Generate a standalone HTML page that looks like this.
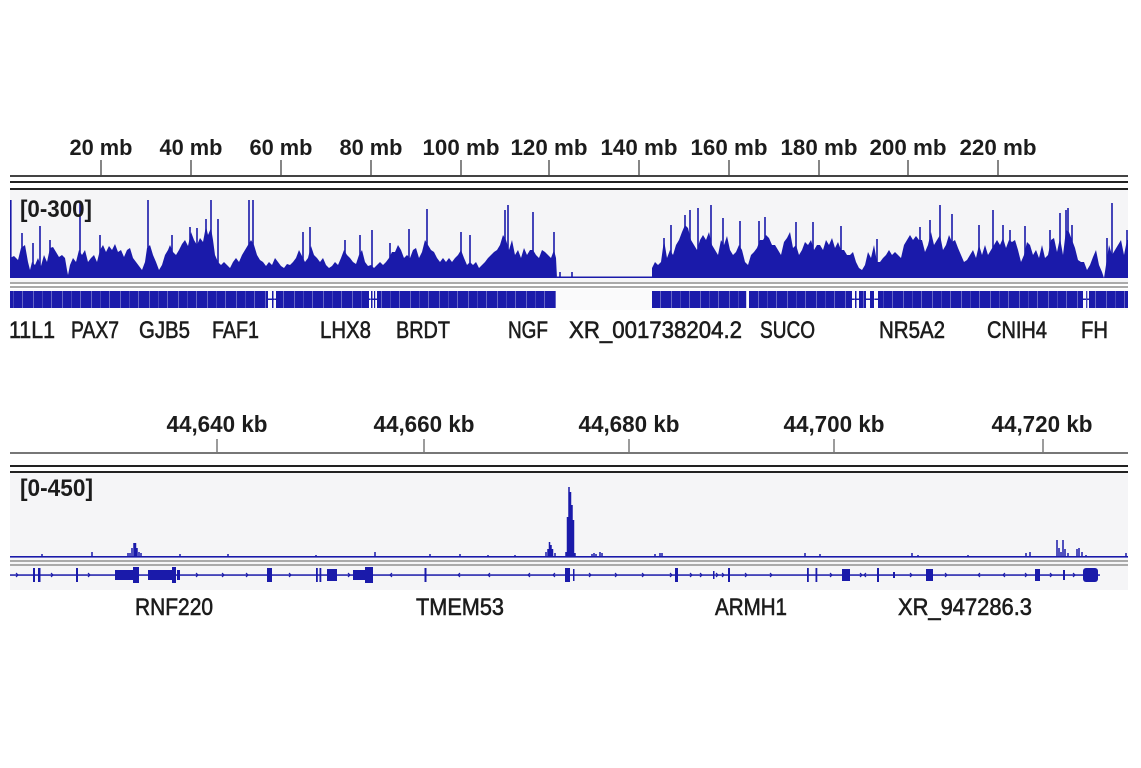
<!DOCTYPE html>
<html><head><meta charset="utf-8"><style>
html,body{margin:0;padding:0;background:#fff;}
svg{display:block;}
text{font-family:"Liberation Sans",Arial,sans-serif;fill:#1c1c1c;}
.t{font-weight:bold;font-size:22px;}
.r{font-weight:bold;font-size:24px;}
.g{font-size:24px;stroke:#1c1c1c;stroke-width:0.6px;}
</style></head><body>
<svg width="1141" height="768" viewBox="0 0 1141 768" xmlns="http://www.w3.org/2000/svg">
<defs>
<pattern id="tex" width="29" height="20" patternUnits="userSpaceOnUse">
<rect x="4" y="0" width="0.8" height="20" fill="#fff" opacity="0.4"/>
<rect x="13" y="0" width="0.6" height="20" fill="#fff" opacity="0.3"/>
<rect x="22" y="0" width="0.8" height="20" fill="#fff" opacity="0.4"/>
</pattern>
</defs>
<rect width="1141" height="768" fill="#fff"/>

<!-- ===== TOP PANEL ===== -->
<g text-anchor="middle" class="t">
<text x="101" y="155" textLength="63" lengthAdjust="spacingAndGlyphs">20 mb</text>
<text x="191" y="155" textLength="63" lengthAdjust="spacingAndGlyphs">40 mb</text>
<text x="281" y="155" textLength="63" lengthAdjust="spacingAndGlyphs">60 mb</text>
<text x="371" y="155" textLength="63" lengthAdjust="spacingAndGlyphs">80 mb</text>
<text x="461" y="155" textLength="77" lengthAdjust="spacingAndGlyphs">100 mb</text>
<text x="549" y="155" textLength="77" lengthAdjust="spacingAndGlyphs">120 mb</text>
<text x="639" y="155" textLength="77" lengthAdjust="spacingAndGlyphs">140 mb</text>
<text x="729" y="155" textLength="77" lengthAdjust="spacingAndGlyphs">160 mb</text>
<text x="819" y="155" textLength="77" lengthAdjust="spacingAndGlyphs">180 mb</text>
<text x="908" y="155" textLength="77" lengthAdjust="spacingAndGlyphs">200 mb</text>
<text x="998" y="155" textLength="77" lengthAdjust="spacingAndGlyphs">220 mb</text>
</g>
<g stroke="#444" stroke-width="1.3">
<path d="M101 160V176M191 160V176M281 160V176M371 160V176M461 160V176M549 160V176M639 160V176M729 160V176M819 160V176M908 160V176M998 160V176"/>
</g>
<rect x="10" y="175" width="1118" height="2" fill="#444"/>
<rect x="10" y="181" width="1118" height="2" fill="#222"/>
<rect x="10" y="188" width="1118" height="2" fill="#222"/>
<rect x="10" y="190" width="1118" height="92" fill="#f5f5f7"/>
<rect x="10" y="289" width="1118" height="21" fill="#fafafb"/>

<g fill="#1a1aaa">
<polygon points="10,278 10,258 14,256 18,260 21,248 25,245 28,262 30,270 32,262 35,265 38,258 41,266 44,255 47,262 50,248 53,247 56,252 59,257 62,255 65,258 67,270 68,275 70,265 73,258 76,262 79,250 82,255 85,250 88,262 91,258 94,255 97,262 100,250 103,245 106,252 109,246 112,250 115,244 118,252 121,250 124,257 127,250 130,248 133,258 136,262 139,266 142,270 145,262 147,248 150,245 153,255 156,262 159,270 162,265 165,255 168,250 170,245 173,252 176,255 179,250 182,244 185,240 188,246 191,232 194,240 197,245 200,238 203,242 206,226 208,235 211,228 213,240 215,255 218,262 221,265 224,262 227,265 230,268 233,262 236,258 239,262 242,255 245,250 248,245 251,240 254,245 257,255 260,260 263,262 266,266 269,262 272,265 275,258 278,262 281,266 284,268 287,264 290,265 293,262 296,258 299,250 302,256 305,262 308,258 311,246 314,255 317,258 320,262 323,258 326,265 329,268 332,266 335,262 338,265 341,258 344,250 347,255 350,258 353,262 356,264 359,255 362,250 365,262 368,266 371,265 374,268 377,265 380,262 383,265 386,262 389,258 392,252 395,252 398,245 401,250 404,258 407,255 410,258 413,250 416,248 419,258 422,252 425,240 428,245 431,250 434,252 437,258 440,262 443,258 446,262 449,258 452,262 455,258 458,255 461,250 464,258 467,265 470,262 473,265 476,262 479,268 482,265 485,262 488,258 491,255 494,252 497,250 500,245 503,235 506,240 509,250 512,240 515,255 518,250 521,258 524,248 527,255 530,250 533,250 536,255 539,258 542,250 545,252 548,255 551,258 554,250 556,258 557,278"/>
<polygon points="652,278 652,268 655,262 658,265 661,262 664,240 667,258 670,250 673,255 676,245 679,240 682,232 685,225 688,228 691,240 694,245 697,250 700,240 703,235 706,240 709,232 712,245 715,250 718,255 721,240 724,245 727,236 730,250 733,255 736,252 739,245 742,250 745,262 748,265 751,255 754,252 757,248 760,240 763,240 766,235 769,238 772,245 775,245 778,250 781,255 784,242 787,238 790,232 793,248 796,245 799,255 802,250 805,242 808,245 811,240 814,250 817,245 820,245 823,250 826,240 829,245 832,238 835,248 838,242 841,250 844,250 847,255 850,255 853,252 856,262 859,268 862,270 865,265 868,252 871,258 874,245 877,262 880,262 883,258 886,255 889,250 892,255 895,252 898,255 901,258 904,245 907,240 910,235 913,240 916,236 919,240 922,240 925,252 928,245 931,232 934,245 937,240 940,235 943,250 946,245 949,235 952,242 955,240 958,248 961,255 964,262 967,260 970,255 973,250 976,258 979,245 982,255 985,245 988,255 991,250 994,245 997,240 1000,245 1003,238 1006,248 1009,240 1012,242 1015,240 1018,250 1021,262 1024,255 1027,242 1030,245 1033,255 1036,250 1039,258 1042,245 1045,258 1048,255 1051,240 1054,238 1057,252 1060,238 1063,255 1066,230 1069,232 1072,240 1075,248 1078,260 1081,262 1084,262 1087,270 1090,265 1093,257 1096,250 1099,265 1102,272 1104,278 1106,265 1109,245 1112,255 1115,250 1118,245 1121,240 1124,255 1127,240 1128,240 1128,278"/>
<rect x="557" y="276.5" width="95" height="1.5"/>
</g>
<path stroke="#1a1aaa" stroke-width="1.6" fill="none" d="M10.8 278V200M22 278V233M33 278V243M40 278V226M50 278V240M80 278V203M100 278V235M148 278V200M172 278V235M190 278V227M197 278V228M206 278V219M211 278V200M218 278V219M249 278V200M253 278V200M303 278V232M310 278V227M345 278V240M360 278V235M372 278V230M390 278V243M409 278V229M427 278V209M461 278V232M470 278V235M505 278V210M508 278V205M533 278V212M554 278V232M560 278V272M572 278V272M664 278V238M671 278V225M685 278V215M690 278V210M698 278V208M711 278V205M723 278V218M740 278V221M759 278V221M765 278V217M796 278V222M813 278V222M841 278V226M877 278V239M920 278V227M930 278V220M940 278V205M952 278V214M979 278V225M993 278V210M1003 278V225M1010 278V230M1025 278V226M1050 278V230M1060 278V213M1066 278V210M1068 278V208M1072 278V225M1107 278V238M1112 278V203M1127 278V230"/>
<rect x="10" y="282" width="1118" height="2" fill="#aaa"/>
<rect x="10" y="286" width="1118" height="2" fill="#aaa"/>

<!-- top gene track -->
<g fill="#1a1aaa">
<rect x="10" y="291" width="258" height="17"/>
<rect x="276" y="291" width="93" height="17"/>
<rect x="377" y="291" width="179" height="17"/>
<rect x="652" y="291" width="93" height="17"/>
<rect x="749" y="291" width="103" height="17"/>
<rect x="859" y="291" width="7" height="17"/>
<rect x="870" y="291" width="4" height="17"/>
<rect x="878" y="291" width="205" height="17"/>
<rect x="1089" y="291" width="39" height="17"/>
<rect x="268" y="298.5" width="8" height="1.5"/>
<rect x="272" y="291" width="1.5" height="17"/>
<rect x="369" y="298.5" width="8" height="1.5"/>
<rect x="371" y="291" width="1.5" height="17"/>
<rect x="374" y="291" width="1.2" height="17"/>
<rect x="852" y="298.5" width="7" height="1.5"/>
<rect x="855" y="291" width="1.5" height="17"/>
<rect x="866" y="298.5" width="4" height="1.5"/>
<rect x="874" y="298.5" width="4" height="1.5"/>
<rect x="1083" y="298.5" width="6" height="1.5"/>
<rect x="1086" y="291" width="1.3" height="17"/>
<rect x="745" y="291" width="1.2" height="17"/>
</g>
<rect x="10" y="291" width="546" height="17" fill="url(#tex)"/>
<rect x="652" y="291" width="476" height="17" fill="url(#tex)"/>

<text x="20" y="217" class="r" textLength="72" lengthAdjust="spacingAndGlyphs">[0-300]</text>

<g class="g">
<text x="9" y="338" textLength="46" lengthAdjust="spacingAndGlyphs">11L1</text>
<text x="71" y="338" textLength="48" lengthAdjust="spacingAndGlyphs">PAX7</text>
<text x="139" y="338" textLength="51" lengthAdjust="spacingAndGlyphs">GJB5</text>
<text x="212" y="338" textLength="47" lengthAdjust="spacingAndGlyphs">FAF1</text>
<text x="320" y="338" textLength="51" lengthAdjust="spacingAndGlyphs">LHX8</text>
<text x="396" y="338" textLength="54" lengthAdjust="spacingAndGlyphs">BRDT</text>
<text x="508" y="338" textLength="40" lengthAdjust="spacingAndGlyphs">NGF</text>
<text x="569" y="338" textLength="173" lengthAdjust="spacingAndGlyphs">XR_001738204.2</text>
<text x="760" y="338" textLength="55" lengthAdjust="spacingAndGlyphs">SUCO</text>
<text x="879" y="338" textLength="66" lengthAdjust="spacingAndGlyphs">NR5A2</text>
<text x="987" y="338" textLength="60" lengthAdjust="spacingAndGlyphs">CNIH4</text>
<text x="1081" y="338" textLength="27" lengthAdjust="spacingAndGlyphs">FH</text>
</g>

<!-- ===== BOTTOM PANEL ===== -->
<g text-anchor="middle" class="t" style="font-size:23px">
<text x="217" y="432" textLength="101" lengthAdjust="spacingAndGlyphs">44,640 kb</text>
<text x="424" y="432" textLength="101" lengthAdjust="spacingAndGlyphs">44,660 kb</text>
<text x="629" y="432" textLength="101" lengthAdjust="spacingAndGlyphs">44,680 kb</text>
<text x="834" y="432" textLength="101" lengthAdjust="spacingAndGlyphs">44,700 kb</text>
<text x="1042" y="432" textLength="101" lengthAdjust="spacingAndGlyphs">44,720 kb</text>
</g>
<path stroke="#666" stroke-width="1.3" d="M217 439V453M424 439V453M629 439V453M834 439V453M1043 439V453"/>
<rect x="10" y="452" width="1118" height="2" fill="#777"/>
<rect x="10" y="465" width="1118" height="2" fill="#222"/>
<rect x="10" y="471" width="1118" height="2" fill="#222"/>
<rect x="10" y="473" width="1118" height="117" fill="#f5f5f7"/>

<rect x="10" y="556" width="1118" height="1.6" fill="#1a1aaa"/>
<path stroke="#1a1aaa" stroke-width="1.5" fill="none" d="M42 557V554M92 557V552M128 557V553M130 557V553M132 557V548M134 557V543M135.5 557V543M137 557V548M139 557V552M141 557V553M180 557V554M228 557V554M316 557V555M375 557V552M430 557V554M460 557V554M488 557V555M515 557V555M546 557V552M548 557V549M549.5 557V542M551 557V545M552.5 557V549M555 557V553M566 557V552M567.5 557V517M569 557V487M570.5 557V492M572 557V505M573.5 557V520M575 557V553M592 557V554M594 557V553M596 557V554M600 557V552M602 557V553M655 557V554M660 557V553M662 557V553M805 557V553M820 557V554M912 557V553M918 557V555M968 557V555M1026 557V553M1030 557V552M1057 557V540M1059 557V548M1061 557V552M1063 557V540M1065 557V549M1068 557V553M1077 557V549M1079 557V548M1082 557V552M1086 557V555M1126 557V553"/>
<rect x="10" y="560" width="1118" height="2" fill="#aaa"/>
<rect x="10" y="564" width="1118" height="2" fill="#aaa"/>

<!-- bottom gene track -->
<rect x="10" y="574.3" width="1090" height="1.5" fill="#1a1aaa"/>
<g fill="#1a1aaa">
<rect x="33" y="568" width="2" height="14"/>
<rect x="38" y="568" width="2.5" height="14"/>
<rect x="76" y="568" width="2" height="14"/>
<rect x="115" y="570" width="18" height="10"/>
<rect x="133" y="567" width="6" height="16"/>
<rect x="148" y="570" width="24" height="10"/>
<rect x="172" y="567" width="4" height="16"/>
<rect x="177" y="570" width="3" height="10"/>
<rect x="267" y="568" width="5" height="14"/>
<rect x="316" y="568" width="1.8" height="14"/>
<rect x="319.5" y="568" width="1.8" height="14"/>
<rect x="327" y="569" width="10" height="12"/>
<rect x="353" y="570" width="12" height="10"/>
<rect x="365" y="567" width="8" height="16"/>
<rect x="424.5" y="568" width="2" height="14"/>
<rect x="565" y="568" width="5" height="14"/>
<rect x="573" y="569" width="1.5" height="12"/>
<rect x="675" y="568" width="3" height="14"/>
<rect x="713" y="571" width="1.5" height="8"/>
<rect x="728" y="568" width="2" height="14"/>
<rect x="807" y="568" width="1.8" height="14"/>
<rect x="815.5" y="568" width="1.8" height="14"/>
<rect x="842" y="569" width="8" height="12"/>
<rect x="877" y="568" width="2" height="14"/>
<rect x="893" y="572" width="2" height="6"/>
<rect x="926" y="569" width="7" height="12"/>
<rect x="1035" y="569" width="5" height="12"/>
<rect x="1063" y="570" width="2" height="10"/>
<rect x="1083" y="568" width="15" height="14" rx="3"/>
</g>
<path stroke="#1a1aaa" stroke-width="1.2" fill="none" d="M16 573l2 2-2 2M51 573l2 2-2 2M88 573l2 2-2 2M196 573l2 2-2 2M222 573l2 2-2 2M246 573l2 2-2 2M289 573l2 2-2 2M348 573l2 2-2 2M392 577l-2-2 2-2M460 577l-2-2 2-2M490 577l-2-2 2-2M530 577l-2-2 2-2M555 577l-2-2 2-2M589 573l2 2-2 2M615 573l2 2-2 2M642 573l2 2-2 2M670 573l2 2-2 2M690 573l2 2-2 2M700 573l2 2-2 2M716 573l2 2-2 2M722 573l2 2-2 2M745 573l2 2-2 2M770 573l2 2-2 2M830 573l2 2-2 2M860 573l2 2-2 2M866 577l-2-2 2-2M910 573l2 2-2 2M945 573l2 2-2 2M980 577l-2-2 2-2M1005 577l-2-2 2-2M1025 573l2 2-2 2M1050 573l2 2-2 2M1073 573l2 2-2 2"/>

<text x="20" y="496" class="r" textLength="73" lengthAdjust="spacingAndGlyphs">[0-450]</text>

<g class="g">
<text x="135" y="615" textLength="78" lengthAdjust="spacingAndGlyphs">RNF220</text>
<text x="416" y="615" textLength="88" lengthAdjust="spacingAndGlyphs">TMEM53</text>
<text x="715" y="615" textLength="72" lengthAdjust="spacingAndGlyphs">ARMH1</text>
<text x="898" y="615" textLength="134" lengthAdjust="spacingAndGlyphs">XR_947286.3</text>
</g>
</svg>
</body></html>
